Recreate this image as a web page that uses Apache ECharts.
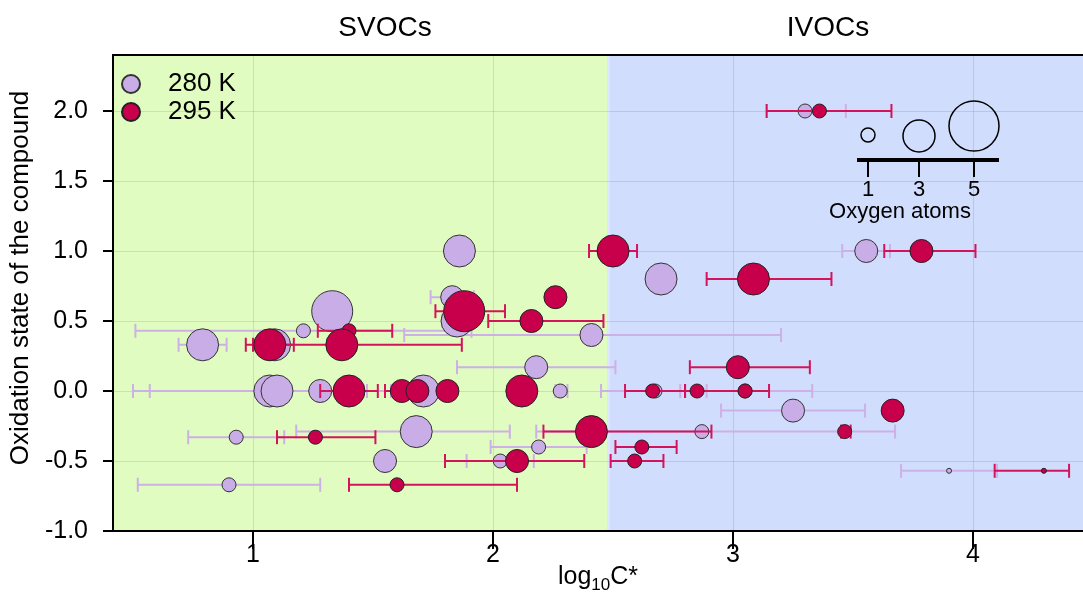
<!DOCTYPE html>
<html>
<head>
<meta charset="utf-8">
<script src="https://cdn.jsdelivr.net/npm/echarts@6/dist/echarts.min.js"></script>
<style>
  html, body { margin: 0; padding: 0; background: #fff; }
  #chart { width: 1083px; height: 597px; }
</style>
</head>
<body>
<div id="chart"></div>
<script>
/* ── data: 280 K ── */
const x280   = [3.30, 1.86, 3.555, 2.70, 1.83, 1.33, 1.85, 1.21, 2.41, 0.79, 1.09, 2.18, 1.07, 1.10, 1.28, 1.71, 2.28, 2.675, 3.05, 3.25, 1.68, 2.87, 0.93, 2.19, 1.55, 2.03, 3.90, 0.90];
const y280   = [2.0, 1.0, 1.0, 0.8, 0.67, 0.57, 0.5, 0.43, 0.4, 0.33, 0.33, 0.17, 0, 0, 0, 0, 0, 0, 0, -0.14, -0.29, -0.29, -0.33, -0.4, -0.5, -0.5, -0.57, -0.67];
const oxy280 = [1, 3, 2, 3, 2, 4, 3, 1, 2, 3, 3, 2, 3, 3, 2, 3, 1, 1, 1, 2, 3, 1, 1, 1, 2, 1, 0, 1];
const lo280  = [3.14, null, 3.455, null, 1.74, null, 1.79, 0.51, 1.63, 0.69, null, 1.85, 0.57, 0.50, null, null, 2.26, 2.45, 2.78, 2.95, 1.18, 2.18, 0.73, 1.99, null, 1.89, 3.70, 0.52];
const hi280  = [3.47, null, 3.654, null, 1.92, null, 1.91, 1.91, 3.20, 0.89, null, 2.51, 1.475, 1.575, null, null, 2.31, 2.89, 3.33, 3.55, 2.07, 3.675, 1.13, 2.39, null, 2.17, 4.10, 1.28];

/* ── data: 295 K ── */
const x295   = [3.36, 2.50, 3.785, 3.085, 2.26, 1.88, 2.16, 1.40, 1.07, 1.37, 3.02, 1.40, 1.62, 1.685, 1.81, 2.12, 2.665, 2.85, 3.05, 3.665, 2.41, 3.465, 1.26, 2.62, 2.10, 2.59, 4.295, 1.60];
const y295   = [2.0, 1.0, 1.0, 0.8, 0.67, 0.57, 0.5, 0.43, 0.33, 0.33, 0.17, 0, 0, 0, 0, 0, 0, 0, 0, -0.14, -0.29, -0.29, -0.33, -0.4, -0.5, -0.5, -0.57, -0.67];
const oxy295 = [1, 3, 2, 3, 2, 4, 2, 1, 3, 3, 2, 3, 2, 2, 2, 3, 1, 1, 1, 2, 3, 1, 1, 1, 2, 1, 0, 1];
const lo295  = [3.14, 2.40, 3.63, 2.89, null, 1.76, 1.98, 1.27, 0.97, 1.00, 2.82, 1.28, 1.55, null, null, null, 2.55, null, 2.80, null, 2.21, 3.45, 1.10, 2.51, 1.80, 2.49, 4.09, 1.40];
const hi295  = [3.66, 2.60, 4.01, 3.41, null, 2.05, 2.46, 1.58, 1.17, 1.87, 3.32, 1.52, 1.69, null, null, null, 2.80, null, 3.15, null, 2.91, 3.49, 1.51, 2.765, 2.38, 2.71, 4.40, 2.10];

/* ── axis / region constants ── */
const X_MIN = 0.4167, X_MAX = 4.458;
const Y_MIN = -1.0, Y_MAX = 2.4;
const SVOC_IVOC_SPLIT = 2.48;
const xTicks = [1, 2, 3, 4];
const yTicks = [-1.0, -0.5, 0.0, 0.5, 1.0, 1.5, 2.0];
const oxyLegend = [1, 3, 5];

const FONT = "'Liberation Sans', Arial, sans-serif";
const C280 = '#c9ade6', C295 = '#c8004b';
const BAR280 = '#cdb0e6', BAR295 = '#d3145a';

// 산소 원자 수 → 원 지름
const oxySize = n => (n === 0 ? 5 : 9 * n + 5);

function points(xs, ys, os) {
  return xs.map((x, i) => [x, ys[i], os[i]]);
}
function bars(lo, hi, ys) {
  const out = [];
  lo.forEach((l, i) => { if (l != null) out.push([l, hi[i], ys[i]]); });
  return out;
}

function errorBar(color) {
  return function (params, api) {
    const y = api.value(2);
    const a = api.coord([api.value(0), y]);
    const b = api.coord([api.value(1), y]);
    const h = 7;
    const style = { stroke: color, lineWidth: 2 };
    return {
      type: 'group',
      children: [
        { type: 'line', shape: { x1: a[0], y1: a[1], x2: b[0], y2: b[1] }, style },
        { type: 'line', shape: { x1: a[0], y1: a[1] - h, x2: a[0], y2: a[1] + h }, style },
        { type: 'line', shape: { x1: b[0], y1: b[1] - h, x2: b[0], y2: b[1] + h }, style },
      ],
    };
  };
}

const chart = echarts.init(document.getElementById('chart'), null, { renderer: 'canvas' });

/* ── oxygen size key (pixel layout) ── */
const keyX = [868, 919, 974];
const keyCY = [135, 136, 126];
const keyGraphics = [];
oxyLegend.forEach((n, i) => {
  keyGraphics.push({ type: 'circle', shape: { cx: keyX[i], cy: keyCY[i], r: oxySize(n) / 2 }, style: { fill: 'none', stroke: '#000', lineWidth: 1.5 }, z: 100 });
  keyGraphics.push({ type: 'line', shape: { x1: keyX[i], y1: 162, x2: keyX[i], y2: 177 }, style: { stroke: '#000', lineWidth: 2 }, z: 100 });
  keyGraphics.push({ type: 'text', x: keyX[i], y: 190, style: { text: String(n), font: `22px ${FONT}`, fill: '#000', align: 'center', verticalAlign: 'middle' }, z: 100 });
});
keyGraphics.push({ type: 'line', shape: { x1: 857, y1: 160, x2: 999, y2: 160 }, style: { stroke: '#000', lineWidth: 4 }, z: 100 });
keyGraphics.push({ type: 'text', x: 900, y: 212, style: { text: 'Oxygen atoms', font: `22px ${FONT}`, fill: '#000', align: 'center', verticalAlign: 'middle' }, z: 100 });

chart.setOption({
  animation: false,
  backgroundColor: '#fff',
  textStyle: { fontFamily: FONT },
  grid: {
    left: 113, right: 0, top: 55, bottom: 66,
    outerBoundsMode: 'none', containLabel: false, show: false,
  },
  legend: {
    data: ['280 K', '295 K'],
    orient: 'vertical', left: 121, top: 71, padding: 0,
    icon: 'circle', itemWidth: 18, itemHeight: 18, itemGap: 2,
    textStyle: { fontSize: 26, color: '#000', padding: [0, 0, 0, 23], lineHeight: 24 },
  },
  xAxis: [{
    type: 'value', min: X_MIN, max: X_MAX, z: 2,
    name: '{a|log}{b|10}{a|C*}', nameLocation: 'middle', nameGap: 30, nameMoveOverlap: false,
    nameTextStyle: { rich: { a: { fontSize: 25, color: '#000', fontFamily: FONT }, b: { fontSize: 17, color: '#000', fontFamily: FONT, padding: [16, 0, 0, 0] } } },
    axisLine: { show: true, onZero: false, lineStyle: { color: '#000', width: 2 } },
    axisTick: { show: true, customValues: xTicks, length: 18, lineStyle: { color: '#000', width: 2 } },
    axisLabel: { customValues: xTicks, fontSize: 25, color: '#000', margin: 12 },
    splitLine: { show: true, lineStyle: { color: 'rgba(0,0,0,0.1)', width: 1 } },
  }, {
    type: 'value', position: 'top', min: X_MIN, max: X_MAX, z: 10,
    axisLine: { show: true, onZero: false, lineStyle: { color: '#000', width: 2 } },
    axisTick: { show: false }, axisLabel: { show: false }, splitLine: { show: false },
  }],
  yAxis: {
    type: 'value', min: Y_MIN, max: Y_MAX, interval: 0.5, z: 2,
    name: 'Oxidation state of the compound', nameLocation: 'middle', nameGap: 76, nameRotate: 90,
    nameTextStyle: { fontSize: 26, color: '#000', padding: [0, 0, 0, 30] },
    axisLine: { show: true, onZero: false, lineStyle: { color: '#000', width: 2 } },
    axisTick: { show: true, customValues: yTicks, length: 10, lineStyle: { color: '#000', width: 2 } },
    axisLabel: { customValues: yTicks, fontSize: 25, color: '#000', margin: 25, formatter: v => v.toFixed(1) },
    splitLine: { show: true, lineStyle: { color: 'rgba(0,0,0,0.1)', width: 1 } },
  },
  graphic: [
    { type: 'text', x: 385, y: 28, style: { text: 'SVOCs', font: `28px ${FONT}`, fill: '#000', align: 'center', verticalAlign: 'middle' } },
    { type: 'text', x: 828, y: 28, style: { text: 'IVOCs', font: `28px ${FONT}`, fill: '#000', align: 'center', verticalAlign: 'middle' } },
    ...keyGraphics,
  ],
  series: [
    {
      // SVOC / IVOC 배경 영역
      name: 'regions', type: 'scatter', data: [], z: 0, silent: true,
      markArea: {
        silent: true, z: 0,
        data: [
          [{ xAxis: X_MIN, itemStyle: { color: '#e1fcc1' } }, { xAxis: SVOC_IVOC_SPLIT }],
          [{ xAxis: SVOC_IVOC_SPLIT, itemStyle: { color: '#d1ddfd' } }, { xAxis: X_MAX }],
        ],
      },
      markLine: {
        silent: true, z: 1, symbol: 'none', label: { show: false },
        lineStyle: { color: '#dde6ff', width: 3, type: 'solid' },
        data: [{ xAxis: SVOC_IVOC_SPLIT + 0.004 }],
      },
    },
    {
      name: 'bars280', type: 'custom', renderItem: errorBar(BAR280),
      data: bars(lo280, hi280, y280), encode: { x: [0, 1], y: 2 }, z: 3, silent: true,
    },
    {
      name: '280 K', type: 'scatter', data: points(x280, y280, oxy280),
      symbolSize: v => oxySize(v[2]), z: 4,
      itemStyle: { color: C280, borderColor: '#333', borderWidth: 1, opacity: 1 },
    },
    {
      name: 'bars295', type: 'custom', renderItem: errorBar(BAR295),
      data: bars(lo295, hi295, y295), encode: { x: [0, 1], y: 2 }, z: 5, silent: true,
    },
    {
      name: '295 K', type: 'scatter', data: points(x295, y295, oxy295),
      symbolSize: v => oxySize(v[2]), z: 6,
      itemStyle: { color: C295, borderColor: '#222', borderWidth: 1, opacity: 1 },
    },
  ],
});
</script>
</body>
</html>
